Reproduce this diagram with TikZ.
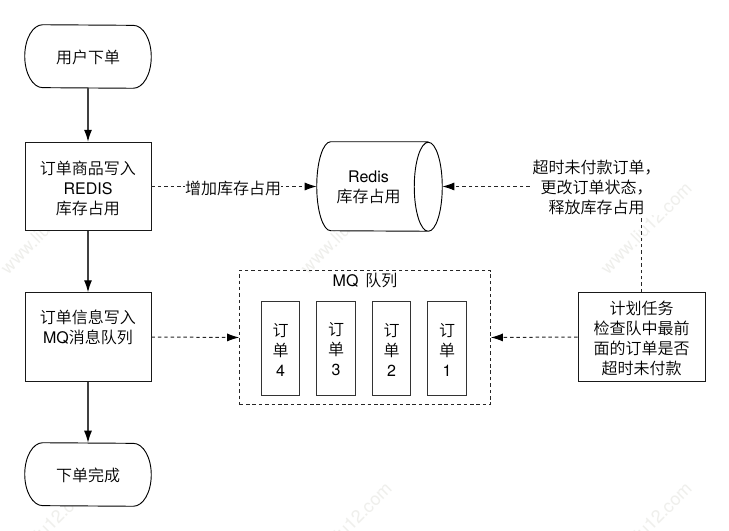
\documentclass[tikz,border=0pt]{standalone}
\usepackage{fontspec}
\setmainfont{TeX Gyre Heros}
\newfontfamily\cjk[UprightFont=* DemiLight]{Noto Sans CJK SC}
\usetikzlibrary{arrows.meta,calc}
\definecolor{wm}{HTML}{EFEFEC}
\tikzset{
  x=0.75pt,y=-0.75pt,
  base/.style={inner sep=0pt,align=center,font=\fontsize{12pt}{15pt}\selectfont},
  shapebox/.style={base,minimum width=94.5pt,minimum height=66.4pt},
  procbox/.style={shapebox,draw=black!90,line width=0.7pt,fill=white},
  orderbox/.style={base,draw=black!80,line width=0.75pt,minimum width=29pt,minimum height=71pt},
  solidline/.style={draw=black!75,line width=0.85pt,-{Latex[length=9pt,width=6pt,black]}},
  dashline/.style={draw=black!85,line width=0.75pt,dash pattern=on 2.6pt off 2.2pt,-{Latex[length=9pt,width=6pt,black]}},
  outline/.style={draw=black,line width=0.7pt,fill=white},
  wmark/.style={rotate=45,text=wm,font=\fontsize{13.5pt}{14pt}\selectfont,inner sep=0pt},
}
\newcommand{\terminator}[1]{%
  \draw[outline] ($(#1.north west)+(13.5pt,0)$) arc[start angle=90,end angle=180,x radius=13.5pt,y radius=23.6pt]
    arc[start angle=180,end angle=270,x radius=13.5pt,y radius=23.6pt]
    -- ($(#1.south east)+(-13.5pt,0)$) arc[start angle=270,end angle=360,x radius=13.5pt,y radius=23.6pt]
    arc[start angle=0,end angle=90,x radius=13.5pt,y radius=23.6pt] -- cycle;}
\begin{document}
\begin{tikzpicture}
\useasboundingbox (0,0) rectangle (729,531);
\fill[white] (0,0) rectangle (729,531);
\begin{scope}
\clip (0,0) rectangle (729,531);
\foreach \p/\n in {(46,228)/a,(346,228)/b,(646,228)/c,(46,528)/d,(346,528)/e,(646,528)/f}
  \node[wmark] (w\n) at \p {www.liu12.com};
\end{scope}
\node[shapebox,minimum height=47.25pt] (start) at (88,56.5) {};
\terminator{start}
\node[base] (starttext) at (88,57.5) {\cjk 用户下单};
\node[procbox] (write) at (88,186.5) {};
\node[base] (writetext) at (88,188.5) {\cjk 订单商品写入\\REDIS\\\cjk 库存占用};
\node[procbox] (mqwrite) at (88,337) {};
\node[base] (mqtext) at (88,327) {\cjk 订单信息写入\\MQ{\cjk 消息队列}};
\node[shapebox,minimum height=47.25pt] (finish) at (88,474.5) {};
\terminator{finish}
\node[base] (finishtext) at (88,475.5) {\cjk 下单完成};
\draw[solidline] (start) -- (write);
\draw[solidline] (write) -- (mqwrite);
\draw[solidline] (mqwrite) -- (finish);
% redis
\node[inner sep=0pt,minimum width=93.75pt,minimum height=66.75pt] (redis) at (379.5,186.5) {};
\draw[outline] ($(redis.north east)+(-10.5pt,0)$) -- ($(redis.north west)+(10.5pt,0)$)
  arc[start angle=90,end angle=270,x radius=10.5pt,y radius=33.375pt]
  -- ($(redis.south east)+(-10.5pt,0)$)
  arc[start angle=-90,end angle=90,x radius=10.5pt,y radius=33.375pt]
  arc[start angle=90,end angle=270,x radius=10.5pt,y radius=33.375pt];
\node[base] (redistext) at (368.5,187.5) {Redis\\\cjk 库存占用};
\draw[dashline] (write.east |- redis.west) -- (redis.west);
\node[base,fill=white] (addlabel) at (233,188) {\cjk 增加库存占用};
% mq
\node[draw=black!85,line width=0.75pt,dash pattern=on 2.6pt off 2.2pt,inner sep=0pt,minimum width=188pt,minimum height=101pt] (mq) at (365,337.5) {};
\node[base] (mqtitle) at (365,280.5) {MQ\hspace{0.15em} \cjk 队列};
\node[orderbox] (o4) at (280.5,348.5) {};
\node[orderbox] (o3) at (336,348.5) {};
\node[orderbox] (o2) at (391.5,348.5) {};
\node[orderbox] (o1) at (447,348.5) {};
\node[base] (t4) at (280.5,349.5) {\cjk 订\\\cjk 单\\4};
\node[base] (t3) at (336,349.5) {\cjk 订\\\cjk 单\\3};
\node[base] (t2) at (391.5,349.5) {\cjk 订\\\cjk 单\\2};
\node[base] (t1) at (447,349.5) {\cjk 订\\\cjk 单\\1};
% task
\node[procbox,minimum width=95.25pt] (task) at (641.5,337) {};
\node[base] (tasktext) at (641.5,338) {\cjk 计划任务\\\cjk 检查队中最前\\\cjk 面的订单是否\\\cjk 超时未付款};
\draw[dashline] (task.north) |- (redis.east);
\node[base,fill=white] (tasklabel) at (596.5,187.5) {\cjk 超时未付款订单，\\\cjk 更改订单状态，\\\cjk 释放库存占用};
\draw[dashline] (mqwrite.east) -- (mq.west);
\draw[dashline] (task.west) -- (mq.east);
\end{tikzpicture}
\end{document}
